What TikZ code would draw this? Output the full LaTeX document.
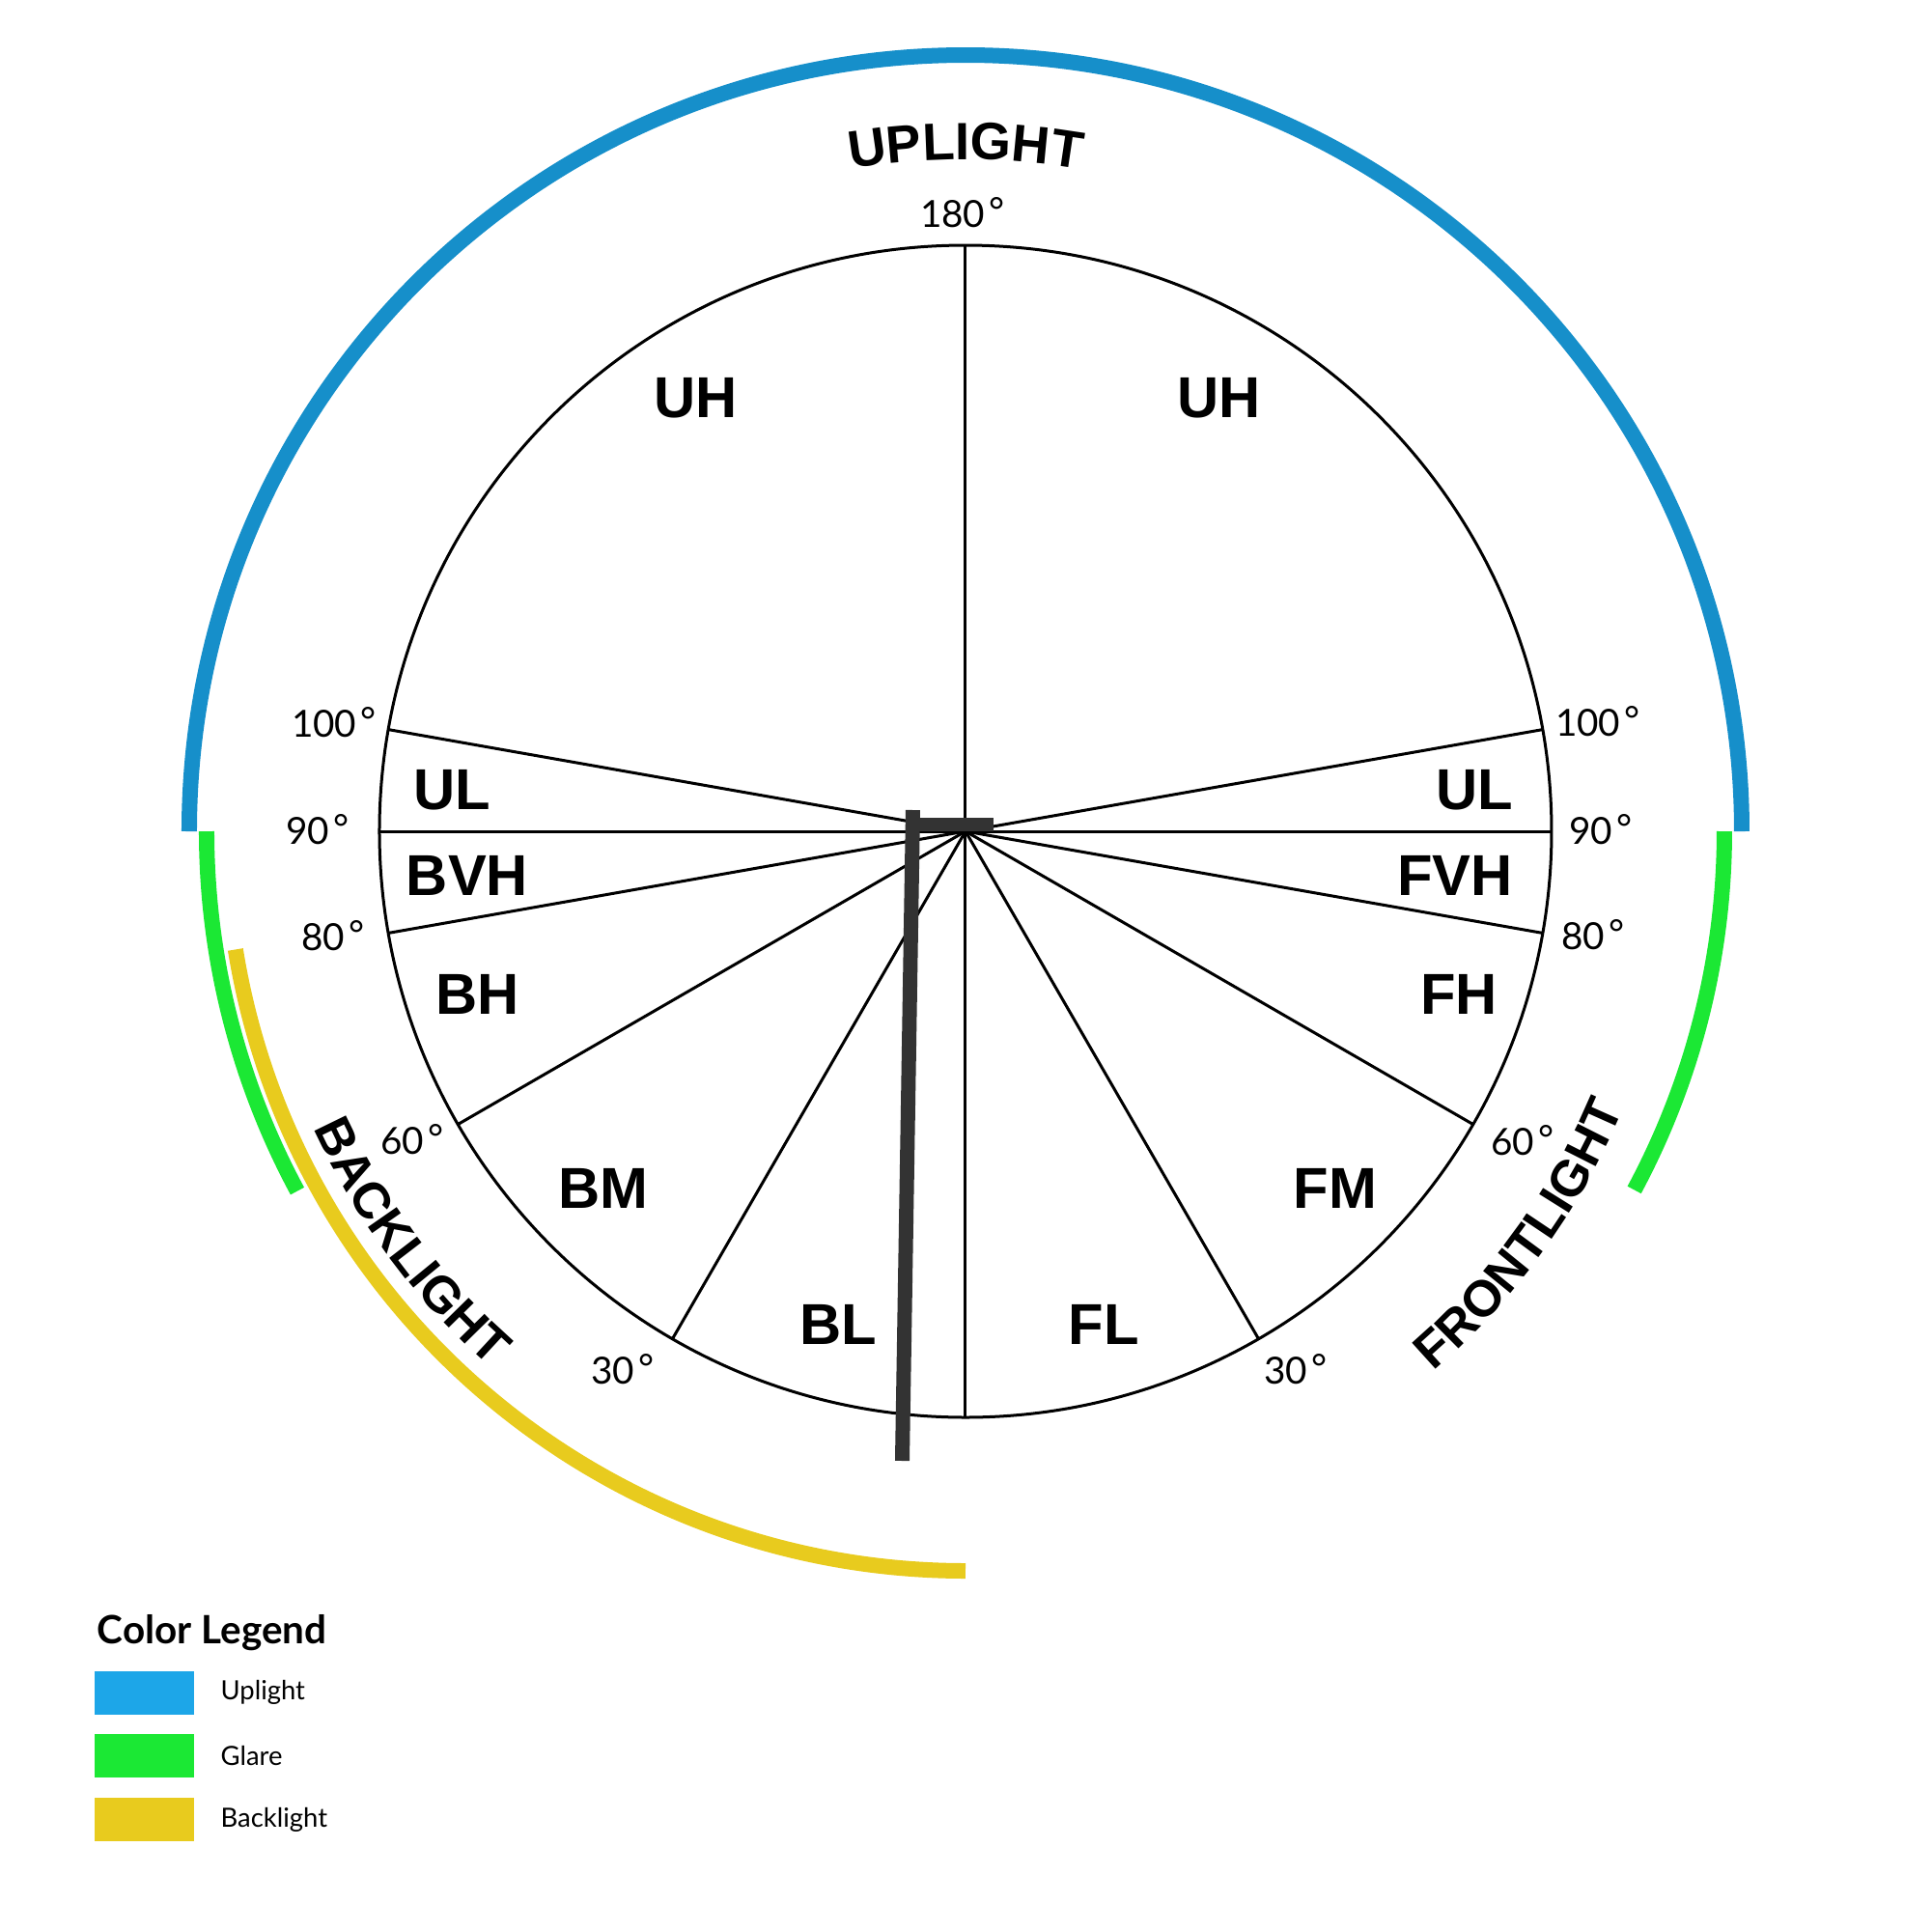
\documentclass[tikz,border=0pt]{standalone}
\usepackage{fontspec}
\setmainfont{Liberation Sans}
\newfontfamily\legendfont{Lato}
\usepackage{tikz}
\usetikzlibrary{decorations.text}
\newlength{\px}
\definecolor{arcblue}{RGB}{22,143,202}
\definecolor{legblue}{RGB}{29,166,232}
\definecolor{glare}{RGB}{27,232,52}
\definecolor{backl}{RGB}{232,203,30}
\definecolor{polegray}{RGB}{51,51,51}
\newcommand{\bannerfont}{\fontsize{15.5pt}{18pt}\selectfont\bfseries}
\newcommand{\sidefont}{\fontsize{15pt}{18pt}\selectfont\bfseries}
\newcommand{\dg}{\kern0.12em\raisebox{0.15ex}{°}}

\begin{document}
\begin{tikzpicture}
    [   sector/.style = {font=\fontsize{17pt}{20pt}\selectfont\bfseries, inner sep=0pt},
        deg/.style    = {font=\legendfont\fontsize{11pt}{13pt}\selectfont, inner sep=0pt},
        spoke/.style  = {line width=3\px},
        band/.style   = {line width=16\px},
        swatch/.style = {minimum width=103\px, minimum height=45\px, inner sep=0pt},
        legtext/.style = {anchor=base west, inner sep=0pt,
                          font=\legendfont\fontsize{7.8pt}{9pt}\selectfont}
    ]
    \setlength{\px}{0.1mm}
    \useasboundingbox (-1000\px,-1139\px) rectangle (1000\px,861\px);
    \coordinate (O) at (0\px,0\px);
    % Circle
    \draw[spoke] (O) circle (607\px);
    % Spokes, back side
    \draw[spoke] (O) -- (170:607\px);
    \draw[spoke] (O) -- (180:607\px);
    \draw[spoke] (O) -- (190:607\px);
    \draw[spoke] (O) -- (210:607\px);
    \draw[spoke] (O) -- (240:607\px);
    % Spokes, vertical
    \draw[spoke] (O) -- ( 90:607\px);
    \draw[spoke] (O) -- (270:607\px);
    % Spokes, front side
    \draw[spoke] (O) -- (300:607\px);
    \draw[spoke] (O) -- (330:607\px);
    \draw[spoke] (O) -- (350:607\px);
    \draw[spoke] (O) -- (360:607\px);
    \draw[spoke] (O) -- ( 10:607\px);
    % Uplight band
    \draw[band,arcblue] (180:804\px) arc[start angle=180, end angle=0, radius=804\px];
    % Glare bands
    \draw[band,glare] (180:786\px) arc[start angle=180, end angle=208.3, radius=786\px];
    \draw[band,glare] (360:786\px) arc[start angle=360, end angle=331.8, radius=786\px];
    % Backlight band
    \draw[band,backl] (189.2:766\px) arc[start angle=189.2, end angle=270, radius=766\px];
    % Pole
    \draw[polegray,line width=15\px] (-54.5\px,22\px) -- (-65.5\px,-652\px);
        \draw[polegray,line width=14\px] (-54\px,7\px) -- (29\px,7\px);
    % Zone labels
    \node[sector] (uhb)  at (-279\px, 449\px) {UH};
    \node[sector] (uhf)  at ( 263\px, 449\px) {UH};
    \node[sector] (ulb)  at (-532\px,  43\px) {UL};
    \node[sector] (ulf)  at ( 527\px,  43\px) {UL};
    \node[sector] (bvh)  at (-516\px, -46\px) {BVH};
    \node[sector] (fvh)  at ( 507\px, -46\px) {FVH};
    \node[sector] (bh)   at (-505\px,-169\px) {BH};
    \node[sector] (fh)   at ( 511\px,-169\px) {FH};
    \node[sector] (bm)   at (-375\px,-370\px) {BM};
    \node[sector] (fm)   at ( 383\px,-370\px) {FM};
    \node[sector] (bl)   at (-132\px,-511\px) {BL};
    \node[sector] (fl)   at ( 143\px,-511\px) {FL};
    % Angle labels
    \node[deg] (d180)  at (  -3\px, 641\px) {180\dg};
    \node[deg] (d100b) at (-654\px, 113\px) {100\dg};
    \node[deg] (d90b)  at (-671\px,   2\px) {90\dg};
    \node[deg] (d80b)  at (-655\px,-108\px) {80\dg};
    \node[deg] (d60b)  at (-573\px,-319\px) {60\dg};
    \node[deg] (d30b)  at (-355\px,-557\px) {30\dg};
    \node[deg] (d100f) at ( 655\px, 114\px) {100\dg};
    \node[deg] (d90f)  at ( 658\px,   2\px) {90\dg};
    \node[deg] (d80f)  at ( 650\px,-107\px) {80\dg};
    \node[deg] (d60f)  at ( 577\px,-320\px) {60\dg};
    \node[deg] (d30f)  at ( 342\px,-557\px) {30\dg};
    % Curved titles
    \path[decorate,decoration={text along path,text align=center,
        text={|\bannerfont|UPLIGHT}}]
        (110:696\px) arc[start angle=110, end angle=70, radius=696\px];
    \path[decorate,decoration={text along path,text align=center,
        text={|\sidefont|BACKLIGHT}}]
        (196.5:742\px) arc[start angle=196.5, end angle=236.5, radius=742\px];
    \path[decorate,decoration={text along path,text align=center,
        text={|\sidefont|FRONTLIGHT}}]
        (304:740\px) arc[start angle=304, end angle=344, radius=740\px];
    % Legend
    \node[anchor=base west, inner sep=0pt,
          font=\legendfont\bfseries\fontsize{11.5pt}{13pt}\selectfont]
          (legtitle) at (-900\px,-841\px) {Color Legend};
    \node[swatch,fill=legblue] (swup)   at (-850.5\px, -892.5\px) {};
    \node[swatch,fill=glare]   (swglr)  at (-850.5\px, -957.5\px) {};
    \node[swatch,fill=backl]   (swback) at (-850.5\px,-1023.5\px) {};
    \node[legtext] (lup)   at (-772\px, -899\px) {Uplight};
    \node[legtext] (lglr)  at (-772\px, -967\px) {Glare};
    \node[legtext] (lback) at (-772\px,-1031\px) {Backlight};
\end{tikzpicture}
\end{document}
